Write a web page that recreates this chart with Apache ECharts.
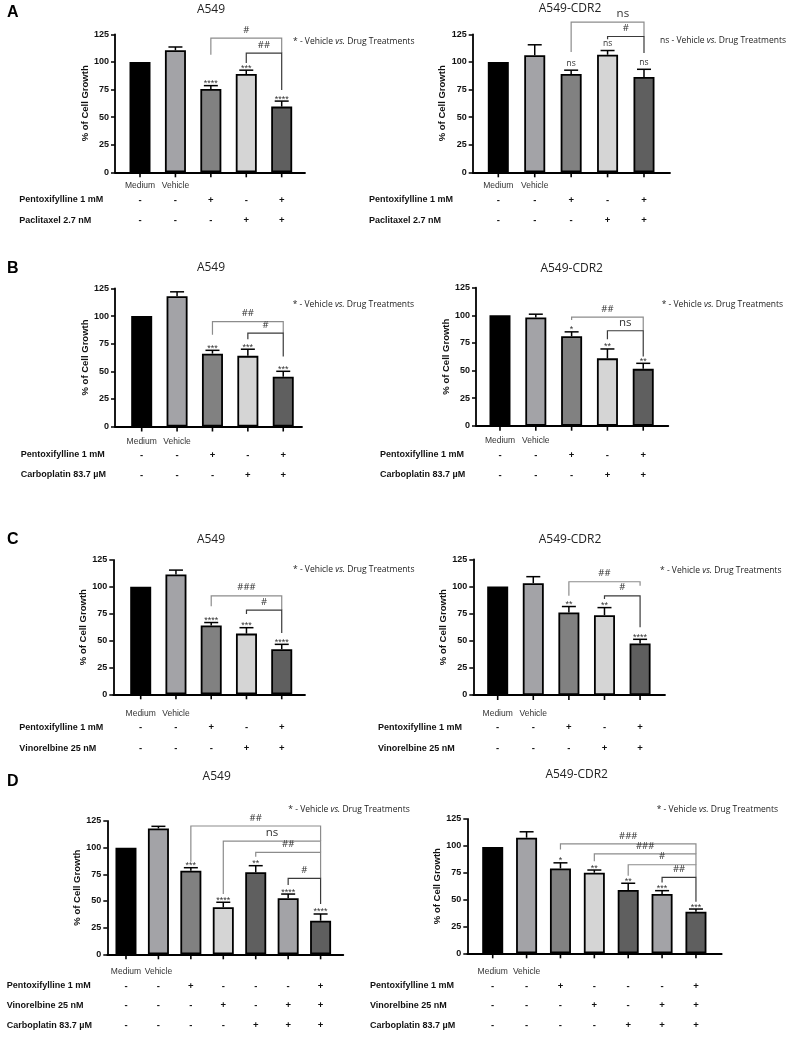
<!DOCTYPE html>
<html><head><meta charset="utf-8">
<script src="https://cdn.jsdelivr.net/npm/echarts@6/dist/echarts.min.js"></script>
<style>html,body{margin:0;padding:0;background:#fff}#c{width:787px;height:1039px}</style>
</head><body><div id="c"></div><script>
// ---------------- data ----------------
const cats5 = ['Medium', 'Vehicle', '', '', ''];
const cats7 = ['Medium', 'Vehicle', '', '', '', '', ''];
const titleLeft = 'A549';
const titleRight = 'A549-CDR2';
const legendStar = '* - Vehicle {i|vs.} Drug Treatments';
const legendNs = 'ns - Vehicle {i|vs.} Drug Treatments';

const rowNamesA = ['Pentoxifylline 1 mM', 'Paclitaxel 2.7 nM'];
const rowNamesB = ['Pentoxifylline 1 mM', 'Carboplatin 83.7 µM'];
const rowNamesC = ['Pentoxifylline 1 mM', 'Vinorelbine 25 nM'];
const rowNamesD = ['Pentoxifylline 1 mM', 'Vinorelbine 25 nM', 'Carboplatin 83.7 µM'];
const pentox5 = ['-', '-', '+', '-', '+'];
const drug5 = ['-', '-', '-', '+', '+'];
const pentox7 = ['-', '-', '+', '-', '-', '-', '+'];
const vino7 = ['-', '-', '-', '+', '-', '+', '+'];
const carbo7 = ['-', '-', '-', '-', '+', '+', '+'];

// brackets: [from, to, level, left leg end, right leg end, label, (label x)]
// A: paclitaxel
const aLeftMean = [100, 110.5, 75.5, 89, 59.5];
const aLeftErr = [0, 3, 3, 3.5, 5];
const aLeftSig = ['', '', '****', '***', '****'];
const aLeftBrackets = [[2, 4, 121.5, 106.5, 108, '#'], [3, 4, 108, 99, 74.5, '##']];
const aRightMean = [100, 106, 89, 106.5, 86.3];
const aRightErr = [0, 9.5, 3.5, 3.8, 7];
const aRightSig = ['', '', 'ns', 'ns', 'ns'];
const aRightBrackets = [[2, 4, 136, 109, 123, 'ns', 3.42], [3, 4, 123, 120.5, 108, '#']];
// B: carboplatin
const bLeftMean = [100, 118, 66, 64, 45];
const bLeftErr = [0, 4, 3, 6, 5];
const bLeftSig = ['', '', '***', '***', '***'];
const bLeftBrackets = [[2, 4, 95, 83, 84.5, '##'], [3, 4, 84.5, 79, 63.5, '#']];
const bRightMean = [100, 98, 81, 61, 51.5];
const bRightErr = [0, 3, 4, 8.5, 5];
const bRightSig = ['', '', '*', '**', '**'];
const bRightBrackets = [[2, 4, 98.3, 95.8, 86, '##'], [3, 4, 86, 78.3, 62.7, 'ns']];
// C: vinorelbine
const cLeftMean = [100, 111.6, 64, 56.5, 42];
const cLeftErr = [0, 4, 2.8, 5.5, 4.5];
const cLeftSig = ['', '', '****', '***', '****'];
const cLeftBrackets = [[2, 4, 91.7, 82, 78.4, '###'], [3, 4, 78.4, 74.7, 57, '#']];
const cRightMean = [100, 103, 76, 73.5, 47.5];
const cRightErr = [0, 6, 5.5, 7, 3.8];
const cRightSig = ['', '', '**', '**', '****'];
const cRightBrackets = [[2, 4, 104.3, 91.4, 100.6, '##'], [3, 4, 91.4, 88.4, 62.3, '#']];
// D: triple combinations
const dLeftMean = [100, 118, 78.4, 44.1, 76.9, 52.5, 31.5];
const dLeftErr = [0, 2, 2.8, 4.7, 6.2, 4, 6.3];
const dLeftSig = ['', '', '***', '****', '**', '****', '****'];
const dLeftBrackets = [[2, 6, 120.3, 86.8, 106.2, '##'], [3, 6, 106.2, 56.5, 95.6, 'ns'], [4, 6, 95.6, 91.5, 71.2, '##'], [5, 6, 71.2, 65, 47.2, '#']];
const dRightMean = [99, 107.6, 79, 75, 59, 55.2, 38.7];
const dRightErr = [0, 5.5, 5.2, 2.5, 6.2, 3.1, 2.5];
const dRightSig = ['', '', '*', '**', '**', '***', '***'];
const dRightBrackets = [[2, 6, 101.9, 96.6, 92.6, '###'], [3, 6, 92.6, 85.7, 82.4, '###'], [4, 6, 82.4, 72.2, 70.7, '#'], [5, 6, 70.7, 66, 48, '##']];

const yTicks = [0, 25, 50, 75, 100, 125];

// ---------------- styles / layout ----------------
const colors5 = ['#000000', '#a3a3a7', '#818181', '#d5d5d5', '#5f5f5f'];
const colors7 = ['#000000', '#a3a3a7', '#818181', '#d5d5d5', '#5f5f5f', '#a3a3a7', '#5f5f5f'];
const ARIAL = '"Liberation Sans", Arial, sans-serif';
const CAL = '"Open Sans", sans-serif';

const layout = [
  {g: [115, 34.3, 190, 138], xr: [-0.706, 4.658], t: [211, 10], lg: [293, 41.7], rx: 19.3, ry: [200, 220.7], my: 186, letter: ['A', 7, 13]},
  {g: [472.7, 34.3, 197.3, 138], xr: [-0.703, 4.714], t: [570, 9], lg: [660, 41], rx: 369, ry: [200, 220.7], my: 186},
  {g: [115, 288.5, 187, 138], xr: [-0.754, 4.53], t: [211, 268], lg: [292.7, 304.3], rx: 20.7, ry: [455, 475], my: 441.7, letter: ['B', 7, 269]},
  {g: [476, 287.7, 192.3, 138], xr: [-0.67, 4.70], t: [571.7, 268.3], lg: [661.7, 304.3], rx: 380, ry: [455, 475], my: 441},
  {g: [113.3, 560, 191.7, 134.3], xr: [-0.777, 4.66], t: [211, 540], lg: [293, 570], rx: 19.3, ry: [727.3, 748.3], my: 714, letter: ['C', 7, 540]},
  {g: [473.3, 559.3, 191.7, 135.7], xr: [-0.685, 4.70], t: [570, 540], lg: [660, 570.7], rx: 378, ry: [727.3, 748.3], my: 714},
  {g: [107.3, 821, 236, 133.3], xr: [-0.576, 6.70], t: [216.7, 776.7], lg: [288.3, 809.3], rx: 6.7, ry: [986, 1005.7, 1025.7], my: 971.7, letter: ['D', 7, 782]},
  {g: [467.3, 819, 254.4, 134.3], xr: [-0.75, 6.76], t: [576.7, 775], lg: [656.7, 809.3], rx: 370, ry: [986, 1005.7, 1025.7], my: 971.7}
];

const panels = [
  {mean: aLeftMean, err: aLeftErr, sig: aLeftSig, br: aLeftBrackets, cats: cats5, colors: colors5, rows: [pentox5, drug5], rowNames: rowNamesA, title: titleLeft, legend: legendStar},
  {mean: aRightMean, err: aRightErr, sig: aRightSig, br: aRightBrackets, cats: cats5, colors: colors5, rows: [pentox5, drug5], rowNames: rowNamesA, title: titleRight, legend: legendNs},
  {mean: bLeftMean, err: bLeftErr, sig: bLeftSig, br: bLeftBrackets, cats: cats5, colors: colors5, rows: [pentox5, drug5], rowNames: rowNamesB, title: titleLeft, legend: legendStar},
  {mean: bRightMean, err: bRightErr, sig: bRightSig, br: bRightBrackets, cats: cats5, colors: colors5, rows: [pentox5, drug5], rowNames: rowNamesB, title: titleRight, legend: legendStar},
  {mean: cLeftMean, err: cLeftErr, sig: cLeftSig, br: cLeftBrackets, cats: cats5, colors: colors5, rows: [pentox5, drug5], rowNames: rowNamesC, title: titleLeft, legend: legendStar},
  {mean: cRightMean, err: cRightErr, sig: cRightSig, br: cRightBrackets, cats: cats5, colors: colors5, rows: [pentox5, drug5], rowNames: rowNamesC, title: titleRight, legend: legendStar},
  {mean: dLeftMean, err: dLeftErr, sig: dLeftSig, br: dLeftBrackets, cats: cats7, colors: colors7, rows: [pentox7, vino7, carbo7], rowNames: rowNamesD, title: titleLeft, legend: legendStar},
  {mean: dRightMean, err: dRightErr, sig: dRightSig, br: dRightBrackets, cats: cats7, colors: colors7, rows: [pentox7, vino7, carbo7], rowNames: rowNamesD, title: titleRight, legend: legendStar}
];

function txt(text, x, y, size, opts) {
  opts = opts || {};
  return {type: 'text', silent: true, style: Object.assign({
    text: text, x: x, y: y, fontSize: size, fontFamily: opts.family || ARIAL,
    fontWeight: opts.weight || 'normal', fill: opts.fill || '#111',
    align: opts.align || 'center', verticalAlign: opts.valign || 'middle'
  }, opts.extra || {})};
}

const grids = [], xAxes = [], yAxes = [], series = [], graphics = [];

panels.forEach((P, i) => {
  const L = layout[i];
  grids.push({left: L.g[0], top: L.g[1], width: L.g[2], height: L.g[3]});
  xAxes.push({type: 'value', gridIndex: i, min: L.xr[0], max: L.xr[1],
    axisLine: {show: true, onZero: false, lineStyle: {color: '#000', width: 1.8}},
    axisTick: {show: false}, axisLabel: {show: false}, splitLine: {show: false}});
  yAxes.push({type: 'value', gridIndex: i, min: yTicks[0], max: yTicks[yTicks.length - 1], interval: yTicks[1] - yTicks[0],
    name: '% of Cell Growth', nameLocation: 'middle', nameGap: 23,
    nameTextStyle: {fontFamily: ARIAL, fontWeight: 'bold', fontSize: 9.5, color: '#111'},
    axisLine: {show: true, onZero: false, lineStyle: {color: '#000', width: 1.8}},
    axisTick: {show: true, length: 4, lineStyle: {color: '#000', width: 1.5}},
    axisLabel: {fontFamily: ARIAL, fontWeight: 'bold', fontSize: 9, color: '#111', margin: 6},
    splitLine: {show: false}});

  // bars
  series.push({type: 'bar', xAxisIndex: i, yAxisIndex: i, barWidth: 21, silent: true,
    itemStyle: {borderColor: '#000', borderWidth: 1.8},
    data: P.mean.map((v, k) => ({value: [k, v], itemStyle: {color: P.colors[k]}}))});

  // error bars + significance marks
  series.push({type: 'custom', xAxisIndex: i, yAxisIndex: i, clip: false, silent: true,
    data: P.mean.map((v, k) => [k, v + P.err[k]]),
    renderItem: function (params, api) {
      const k = params.dataIndex;
      const m = P.mean[k], top = m + P.err[k];
      const p0 = api.coord([k, m]), p1 = api.coord([k, top]);
      const ch = [];
      if (P.err[k] > 0) {
        ch.push({type: 'line', shape: {x1: p0[0], y1: p0[1], x2: p1[0], y2: p1[1]}, style: {stroke: '#000', lineWidth: 1.5}});
        ch.push({type: 'line', shape: {x1: p1[0] - 7, y1: p1[1], x2: p1[0] + 7, y2: p1[1]}, style: {stroke: '#000', lineWidth: 1.5}});
      }
      const s = P.sig[k];
      if (s) {
        if (s === 'ns') ch.push(txt(s, p1[0], p1[1] - 7, 8.5, {family: CAL, fill: '#333'}));
        else ch.push(txt(s, p1[0], p1[1] - 2, 9, {fill: '#333'}));
      }
      return {type: 'group', children: ch};
    }});

  // comparison brackets
  series.push({type: 'custom', xAxisIndex: i, yAxisIndex: i, clip: false, silent: true,
    data: P.br.map(b => [b[0], b[2]]),
    renderItem: function (params, api) {
      const b = P.br[params.dataIndex];
      const last = params.dataIndex === P.br.length - 1;
      const a0 = api.coord([b[0], b[3]]), a1 = api.coord([b[0], b[2]]);
      const c1 = api.coord([b[1], b[2]]), c0 = api.coord([b[1], b[4]]);
      const col = last ? '#3a3a3a' : '#8c8c8c';
      const ch = [{type: 'polyline', shape: {points: [a0, a1, c1, c0]}, style: {stroke: col, lineWidth: 1.2, fill: null}}];
      const mx = b.length > 6 ? api.coord([b[6], b[2]])[0] : (a1[0] + c1[0]) / 2;
      if (b[5] === 'ns') ch.push(txt('ns', mx, a1[1] - 8, 11.5, {family: CAL, fill: '#333'}));
      else ch.push(txt(b[5], mx, a1[1] - 8, 9.5, {family: CAL, fill: '#333'}));
      return {type: 'group', children: ch};
    }});

  // x ticks, category labels, +/- table
  series.push({type: 'custom', xAxisIndex: i, yAxisIndex: i, clip: false, silent: true,
    data: P.cats.map((c, k) => [k, 0]),
    renderItem: function (params, api) {
      const k = params.dataIndex;
      const p = api.coord([k, 0]);
      const ch = [{type: 'line', shape: {x1: p[0], y1: p[1], x2: p[0], y2: p[1] + 5}, style: {stroke: '#000', lineWidth: 1.6}}];
      if (P.cats[k]) ch.push(txt(P.cats[k], p[0], L.my, 8.5, {fill: '#333'}));
      P.rows.forEach((r, j) => ch.push(txt(r[k], p[0], L.ry[j], 9.5, {weight: 'bold', fill: '#111'})));
      return {type: 'group', children: ch};
    }});

  // free texts
  graphics.push(txt(P.title, L.t[0], L.t[1], 12, {family: CAL, fill: '#222'}));
  graphics.push(txt(P.legend, L.lg[0], L.lg[1], 8.5, {family: CAL, fill: '#222', align: 'left',
    extra: {rich: {i: {fontStyle: 'italic', fontSize: 8.5, fontFamily: CAL, fill: '#222'}}}}));
  P.rowNames.forEach((n, j) => graphics.push(txt(n, L.rx, L.ry[j], 9, {weight: 'bold', align: 'left'})));
  if (L.letter) graphics.push(txt(L.letter[0], L.letter[1], L.letter[2], 16, {weight: 'bold', align: 'left', fill: '#000'}));
});

const chart = echarts.init(document.getElementById('c'), null, {renderer: 'canvas'});
chart.setOption({
  animation: false,
  backgroundColor: '#fff',
  grid: grids, xAxis: xAxes, yAxis: yAxes, series: series,
  graphic: {elements: graphics}
});
</script></body></html>
